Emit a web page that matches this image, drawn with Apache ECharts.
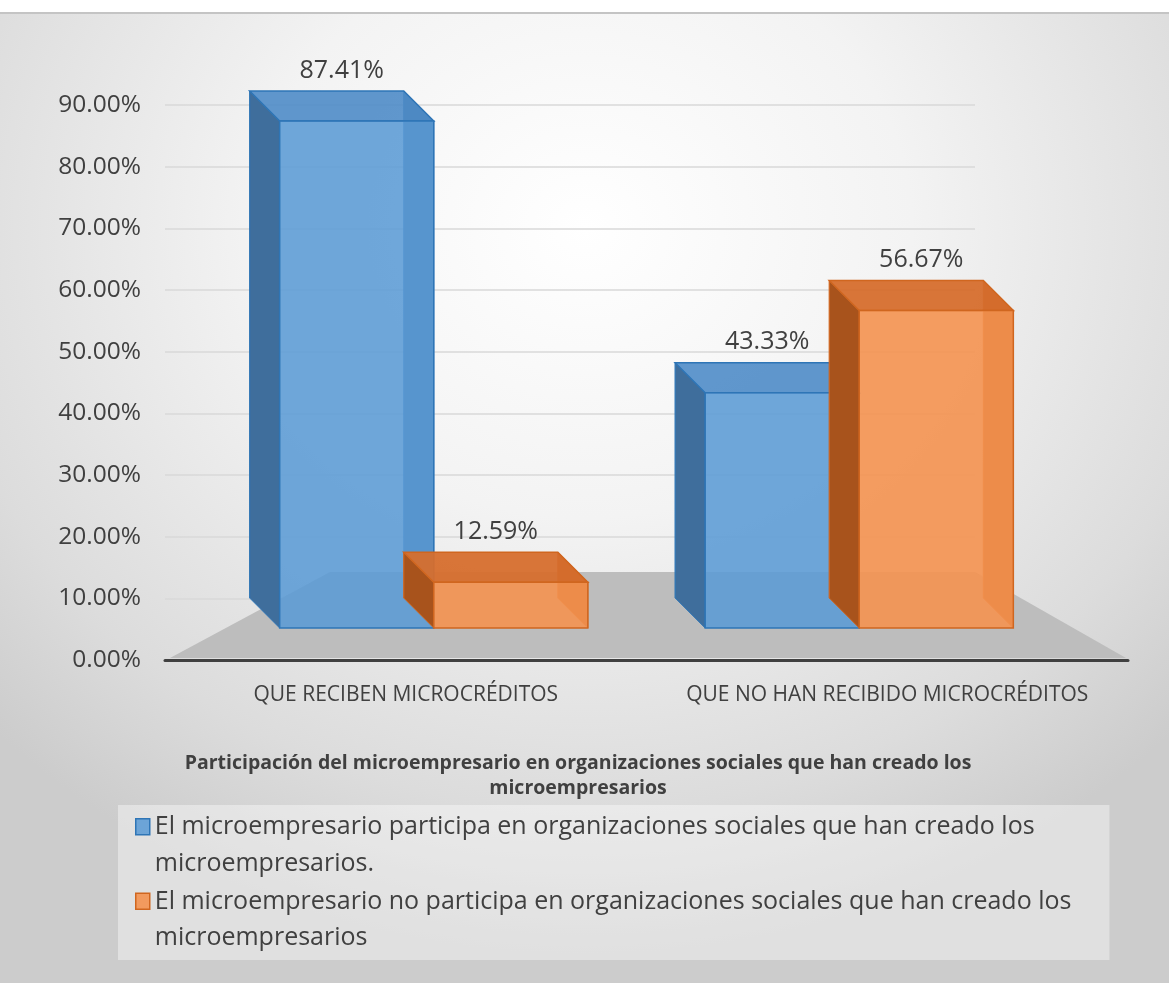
<!DOCTYPE html>
<html>
<head>
<meta charset="utf-8">
<script src="https://cdn.jsdelivr.net/npm/echarts@6/dist/echarts.min.js"></script>
<style>
  html, body { margin: 0; padding: 0; background: #fff; }
  #chart {
    position: absolute; left: 0; top: 12px; width: 1169px; height: 971px;
    background: radial-gradient(ellipse 70% 75% at 50% 22%, #ffffff 0%, #f3f3f3 40%, #dcdcdc 80%, #cccccc 100%);
    border-top: 2px solid #c4c4c4;
    box-sizing: border-box;
  }
</style>
</head>
<body>
<div id="chart"></div>
<script>
const categories = ['QUE RECIBEN MICROCRÉDITOS', 'QUE NO HAN RECIBIDO MICROCRÉDITOS']
const participa = [87.41, 43.33]
const noParticipa = [12.59, 56.67]
const seriesNames = [
  'El microempresario participa en organizaciones sociales que han creado los microempresarios.',
  'El microempresario no participa en organizaciones sociales que han creado los microempresarios'
]
const chartTitle = 'Participación del microempresario en organizaciones sociales que han creado los\nmicroempresarios'

// front, top, side, edge
const palette = [
  { front: 'rgba(91,155,213,0.88)', top: 'rgba(79,140,200,0.9)', side: '#3f6e9c', edge: '#2e75b6' },
  { front: 'rgba(244,146,80,0.9)', top: 'rgba(214,110,45,0.95)', side: '#a8531c', edge: '#d0661f' }
]

const font = '"Open Sans", "Noto Sans", sans-serif'

// pseudo 3d box: front face on the value, back face up-left, whole box pulled a bit toward the middle
function renderBox (params, api) {
  const i = api.value(0)
  const v = api.value(1)
  const p = api.coord([i, v])
  const b = api.coord([i, 0])
  const band = api.size([1, 0])[0]
  const w = band * 0.32
  const s = params.seriesIndex
  const c = palette[s]
  const shift = i === 0 ? 28 : -28
  const x0 = (s === 0 ? p[0] - w : p[0]) + shift
  const x1 = x0 + w
  const dx = -30
  const dy = -30
  const yt = p[1]
  const yb = b[1] - 32
  return {
    type: 'group',
    children: [
      { type: 'polygon', shape: { points: [[x0 + dx, yt + dy], [x0, yt], [x0, yb], [x0 + dx, yb + dy]] }, style: { fill: c.side, stroke: c.edge, lineWidth: 1 } },
      { type: 'polygon', shape: { points: [[x1 + dx, yt + dy], [x1, yt], [x1, yb], [x1 + dx, yb + dy]] }, style: { fill: c.side, stroke: c.edge, lineWidth: 1 } },
      { type: 'polygon', shape: { points: [[x0 + dx, yt + dy], [x1 + dx, yt + dy], [x1, yt], [x0, yt]] }, style: { fill: c.top, stroke: c.edge, lineWidth: 1.5 } },
      { type: 'rect', shape: { x: x0, y: yt, width: w, height: yb - yt }, style: { fill: c.front, stroke: c.edge, lineWidth: 1.5 } },
      { type: 'line', shape: { x1: x0 + dx, y1: yt + dy, x2: x0 + dx, y2: yb + dy }, style: { stroke: c.edge, lineWidth: 1, opacity: 0.6 } },
      {
        type: 'text',
        style: {
          x: x0 + w / 2 + dx / 2,
          y: yt + dy - 8,
          text: v.toFixed(2) + '%',
          fill: '#404040',
          font: '25px ' + font,
          textAlign: 'center',
          textVerticalAlign: 'bottom'
        }
      }
    ]
  }
}

const chart = echarts.init(document.getElementById('chart'), null, { renderer: 'canvas' })

const yScale = { type: 'value', min: 0, max: 90, interval: 10 }

chart.setOption({
  backgroundColor: 'transparent',
  animation: false,
  title: {
    text: chartTitle,
    left: 573,
    top: 732,
    textAlign: 'center',
    textStyle: { fontSize: 19.5, fontWeight: 'bold', color: '#404040', fontFamily: font, lineHeight: 25 }
  },
  legend: {
    orient: 'vertical',
    left: 118,
    top: 791,
    padding: [3, 38, 3, 17],
    backgroundColor: 'rgba(255,255,255,0.4)',
    itemWidth: 14,
    itemHeight: 73,
    itemGap: 0,
    icon: 'path://M0,10h14v16h-14zM7,0h0.01M7,73h0.01',
    formatter: name => name.replace(' los microempresarios', ' los\nmicroempresarios'),
    textStyle: { fontSize: 25, color: '#404040', fontFamily: font, lineHeight: 36.5 },
    data: seriesNames.map((n, k) => ({ name: n, itemStyle: { color: palette[k].front, borderColor: palette[k].edge, borderWidth: 1.5 } }))
  },
  // back wall grid (gridlines stop short of the right end of the floor)
  // and the front grid that carries the categories and bars
  grid: [
    { left: 165, right: 194, top: 91, bottom: 323 },
    { left: 165, right: 41, top: 91, bottom: 323 }
  ],
  xAxis: [
    { gridIndex: 0, type: 'category', show: false, data: categories },
    {
      gridIndex: 1,
      type: 'category',
      data: categories,
      axisLine: { show: true, lineStyle: { color: '#404040', width: 3 } },
      axisTick: { show: false },
      axisLabel: { color: '#404040', fontSize: 21, fontFamily: font, margin: 25, interval: 0 },
      splitLine: { show: false }
    }
  ],
  yAxis: [
    {
      ...yScale,
      gridIndex: 0,
      axisLine: { show: false },
      axisTick: { show: false },
      axisLabel: { color: '#404040', fontSize: 24.5, fontFamily: font, margin: 24, formatter: v => v.toFixed(2) + '%' },
      splitLine: { show: true, lineStyle: { color: '#d9d9d9', width: 1.5 } }
    },
    { ...yScale, gridIndex: 1, show: false, splitLine: { show: false } }
  ],
  series: [
    { name: seriesNames[0], type: 'custom', xAxisIndex: 1, yAxisIndex: 1, renderItem: renderBox, data: participa.map((v, i) => [i, v]), z: 3 },
    { name: seriesNames[1], type: 'custom', xAxisIndex: 1, yAxisIndex: 1, renderItem: renderBox, data: noParticipa.map((v, i) => [i, v]), z: 3 }
  ]
})

// floor of the 3D plot area, laid on the zero line
const y0 = chart.convertToPixel({ yAxisIndex: 1 }, 0)
chart.setOption({
  graphic: [{
    type: 'polygon',
    z: 1,
    shape: { points: [[170, y0 - 2], [1126, y0 - 2], [975, y0 - 88], [330, y0 - 88]] },
    style: { fill: '#bdbdbd' }
  }]
})
</script>
</body>
</html>
